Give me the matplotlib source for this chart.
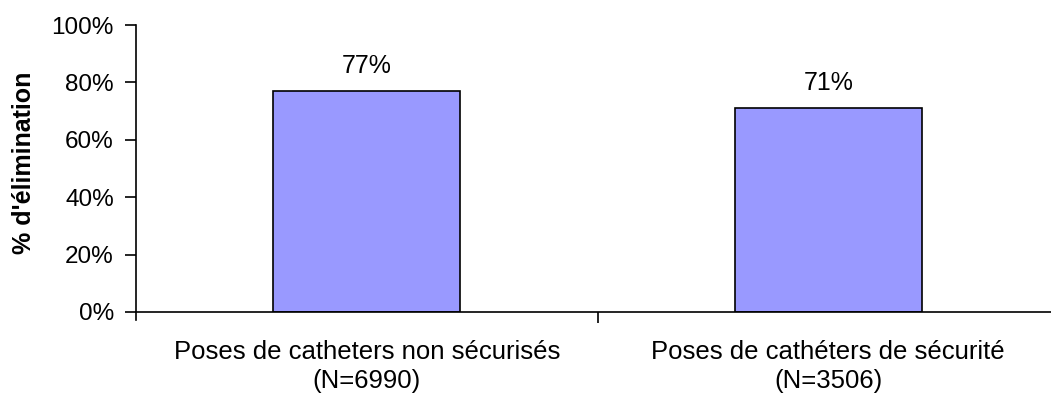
import matplotlib.pyplot as plt

plt.rcParams['font.family'] = ['Liberation Sans', 'DejaVu Sans']

categories = ['Poses de catheters non sécurisés\n(N=6990)',
              'Poses de cathéters de sécurité\n(N=3506)']
elimination = [77, 71]
y_ticks = [0, 20, 40, 60, 80, 100]

fig = plt.figure(figsize=(10.51, 3.98), dpi=100)
ax = fig.add_axes([136 / 1051, 1 - 312 / 398, (1059 - 136) / 1051, 287 / 398])

x = range(len(categories))
bars = ax.bar(x, elimination, width=0.405, color='#9999FF',
              edgecolor='black', linewidth=1.2)

for b, v in zip(bars, elimination):
    ax.annotate(f'{v}%', (b.get_x() + b.get_width() / 2, v),
                xytext=(0, 13), textcoords='offset points',
                ha='center', va='baseline', fontsize=18)

ax.set_xlim(-0.5, 1.5)
ax.set_ylim(0, 100)
ax.set_yticks(y_ticks)
ax.set_yticklabels([f'{t}%' for t in y_ticks], fontsize=17.5)
ax.set_xticks([0.5])
ax.set_xticklabels([''])
ax.set_xticks([0, 1], minor=True)
ax.set_xticklabels(categories, minor=True, fontsize=18.5, linespacing=1.3)
ax.tick_params(axis='x', which='minor', length=0, pad=20)
ax.tick_params(axis='x', which='major', length=8, width=1.2, direction='out')
ax.tick_params(axis='y', length=8, width=1.2, direction='out', pad=8)

ax.spines['top'].set_visible(False)
ax.spines['right'].set_visible(False)
ax.spines['left'].set_linewidth(1.2)
ax.spines['bottom'].set_linewidth(1.2)
ax.spines['left'].set_bounds(-2.8, 100)

ax.set_ylabel("% d'élimination", fontsize=18, fontweight='bold')
ax.yaxis.set_label_coords(-0.108, 0.52)

fig.savefig('out.png', dpi=100)
